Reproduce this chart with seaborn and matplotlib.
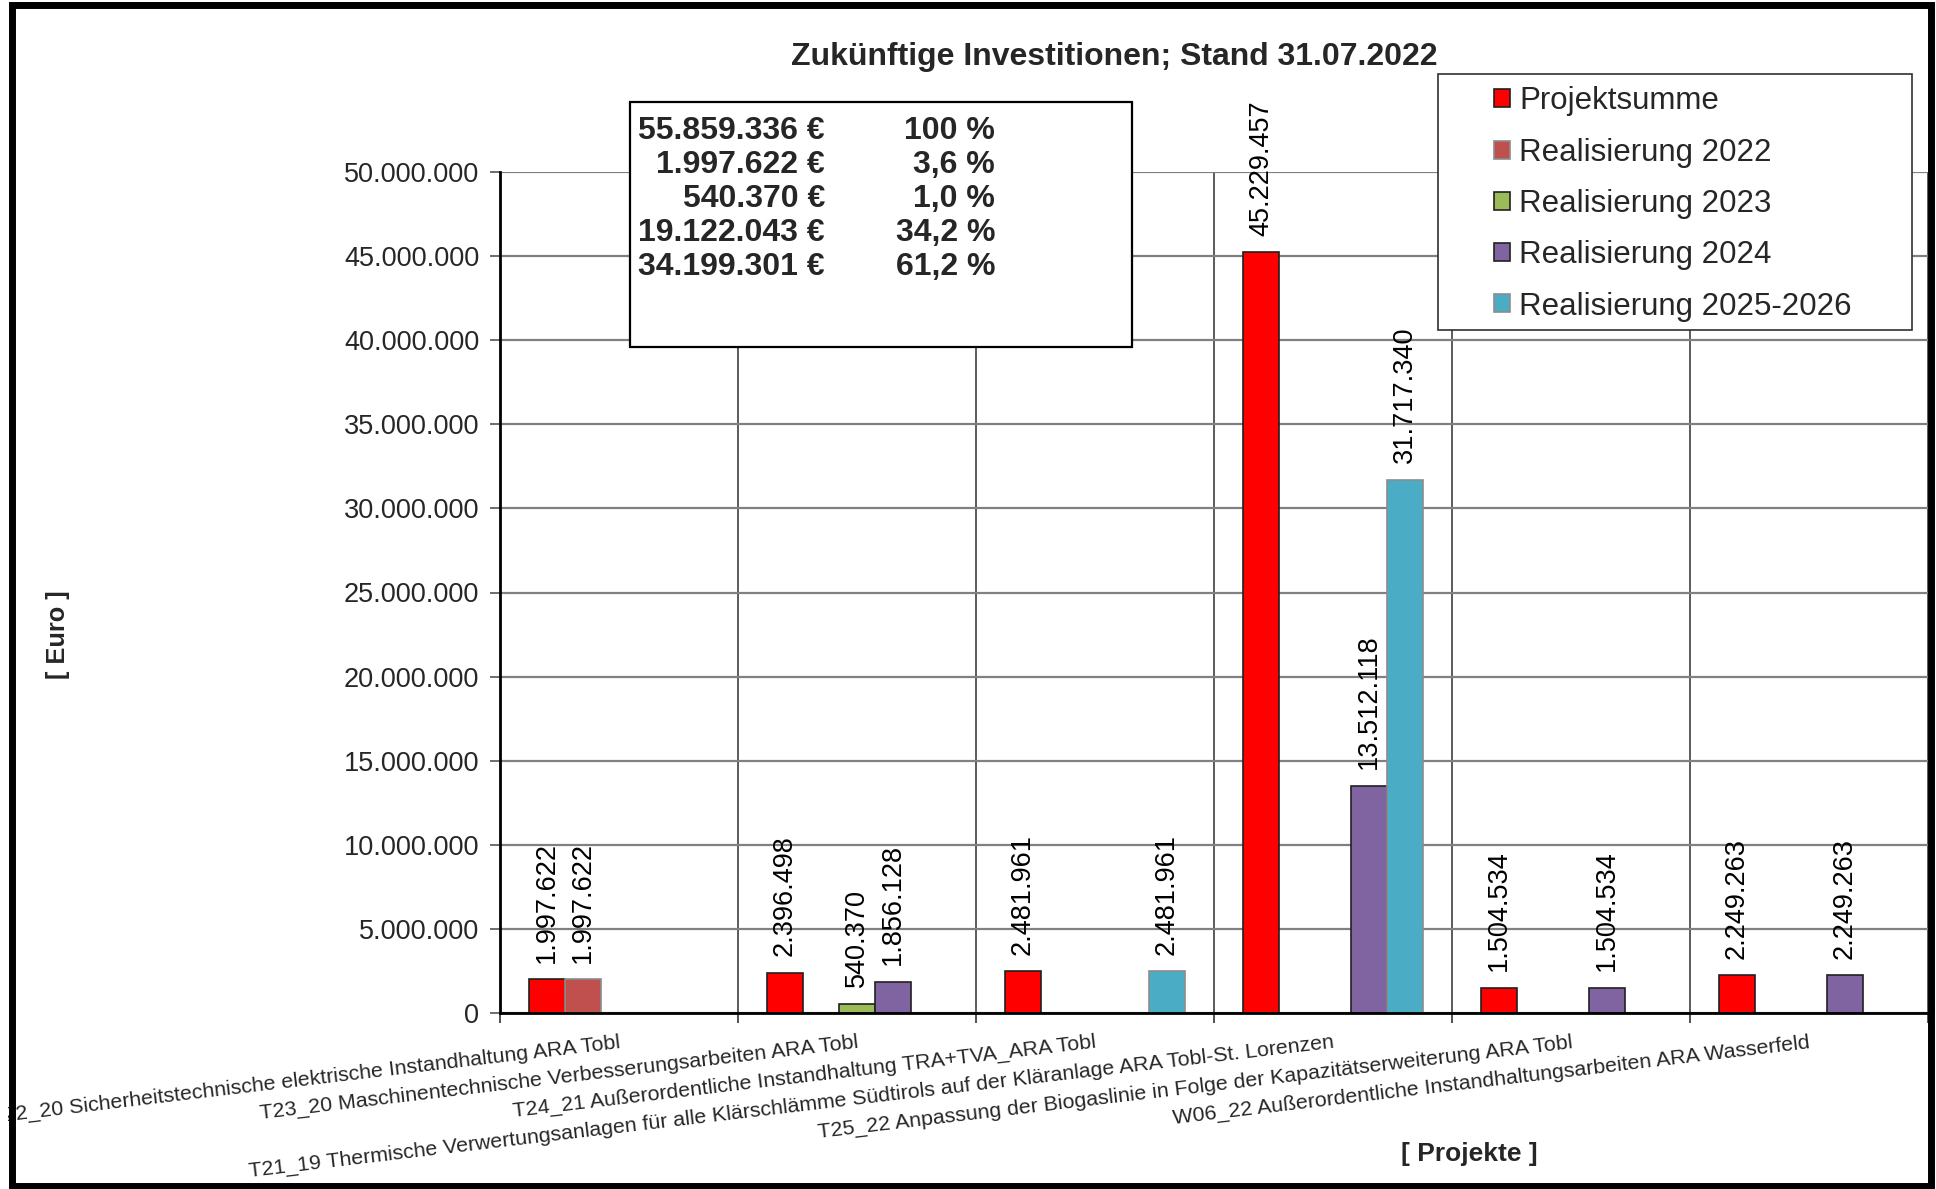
import matplotlib
matplotlib.use("Agg")
import matplotlib.pyplot as plt
from matplotlib.patches import Rectangle, Patch
from matplotlib.ticker import FixedLocator, FuncFormatter
import seaborn as sns
import pandas as pd

# --- data -----------------------------------------------------------------
projects = [
    "T22_20 Sicherheitstechnische elektrische Instandhaltung ARA Tobl",
    "T23_20 Maschinentechnische Verbesserungsarbeiten ARA Tobl",
    "T24_21 Außerordentliche Instandhaltung TRA+TVA_ARA Tobl",
    "T21_19 Thermische Verwertungsanlagen für alle Klärschlämme Südtirols auf der Kläranlage ARA Tobl-St. Lorenzen",
    "T25_22 Anpassung der Biogaslinie in Folge der Kapazitätserweiterung ARA Tobl",
    "W06_22 Außerordentliche Instandhaltungsarbeiten ARA Wasserfeld",
]
series = ["Projektsumme", "Realisierung 2022", "Realisierung 2023",
          "Realisierung 2024", "Realisierung 2025-2026"]

projektsumme = [1997622, 2396498, 2481961, 45229457, 1504534, 2249263]
real_2022 = [1997622, 0, 0, 0, 0, 0]
real_2023 = [0, 540370, 0, 0, 0, 0]
real_2024 = [0, 1856128, 0, 13512118, 1504534, 2249263]
real_2025_2026 = [0, 0, 2481961, 31717340, 0, 0]

summary_amounts = ["55.859.336 €", "1.997.622 €", "540.370 €", "19.122.043 €", "34.199.301 €"]
summary_shares = ["100 %", "3,6 %", "1,0 %", "34,2 %", "61,2 %"]

colors = {
    "Projektsumme": "#FF0000",
    "Realisierung 2022": "#C0504D",
    "Realisierung 2023": "#9BBB59",
    "Realisierung 2024": "#8064A2",
    "Realisierung 2025-2026": "#4BACC6",
}
edges = {
    "Projektsumme": "#202020",
    "Realisierung 2022": "#8C8C8C",
    "Realisierung 2023": "#202020",
    "Realisierung 2024": "#202020",
    "Realisierung 2025-2026": "#8C8C8C",
}

# long-form table, zero entries are not drawn
rows = []
for values, name in zip([projektsumme, real_2022, real_2023, real_2024, real_2025_2026], series):
    for proj, v in zip(projects, values):
        if v > 0:
            rows.append({"Projekt": proj, "Serie": name, "Euro": v})
df = pd.DataFrame(rows)


def de_thousands(v):
    return f"{v:,.0f}".replace(",", ".")


# --- figure ---------------------------------------------------------------
sns.set_theme(style="white")
plt.rcParams["font.family"] = ["Liberation Sans", "DejaVu Sans"]

W, H = 1936, 1189
fig = plt.figure(figsize=(W / 100, H / 100), dpi=100)
fig.patch.set_facecolor("white")

ax_l, ax_r, ax_b, ax_t = 500, 1928, 1013, 172
ax = fig.add_axes([ax_l / W, 1 - ax_b / H, (ax_r - ax_l) / W, (ax_b - ax_t) / H])
ax.set_facecolor("white")

sns.barplot(data=df, x="Projekt", y="Euro", hue="Serie", order=projects,
            hue_order=series, palette=colors, saturation=1, width=0.756,
            errorbar=None, ax=ax, legend=False, linewidth=1.2, zorder=3)

# bar edges and value labels per series
present = [s for s in series if s in df["Serie"].unique()]
for cont, name in zip(ax.containers, present):
    for bar in cont:
        bar.set_edgecolor(edges[name])
        bar.set_linewidth(1.2)
    labels = [de_thousands(b.get_height()) for b in cont]
    ax.bar_label(cont, labels=labels, rotation=90, padding=12,
                 fontsize=19.5, color="black", clip_on=False)

ax.set_xlim(-0.5, len(projects) - 0.5)
ax.set_ylim(0, 50_000_000)

# y axis
ax.yaxis.set_major_locator(FixedLocator(range(0, 50_000_001, 5_000_000)))
ax.yaxis.set_major_formatter(FuncFormatter(lambda v, p: de_thousands(v)))
ax.tick_params(axis="y", which="major", left=True, length=7, width=1.2,
               color="#555555", labelsize=19.5, pad=8)
ax.grid(axis="y", which="major", color="#808080", linewidth=1.6, zorder=0)

# x axis: labels at category centres, ticks and gridlines at boundaries
ax.set_xticks(range(len(projects)))
ax.set_xticklabels(projects, rotation=6.8, ha="right", va="top",
                   rotation_mode="anchor", fontsize=15.4)
ax.tick_params(axis="x", which="major", length=0, pad=14)
ax.set_xticks([i + 0.5 for i in range(-1, len(projects))], minor=True)
ax.tick_params(axis="x", which="minor", bottom=True, length=7, width=1.2,
               color="#333333")
ax.grid(axis="x", which="minor", color="#404040", linewidth=1.2, zorder=0)
ax.grid(axis="x", which="major", visible=False)
ax.set_axisbelow(True)

for side in ["top", "right"]:
    ax.spines[side].set_visible(False)
for side in ["left", "bottom"]:
    ax.spines[side].set_color("black")
    ax.spines[side].set_linewidth(2)
    ax.spines[side].set_zorder(4)

ax.set_xlabel("")
ax.set_ylabel("")


def fx(px):
    return px / W


def fy(py):
    return 1 - py / H


# title and axis captions
fig.text(fx(1114), fy(57), "Zukünftige Investitionen; Stand 31.07.2022",
         ha="center", va="center", fontsize=23, fontweight="bold")
fig.text(fx(58), fy(635), "[ Euro ]", rotation=90, ha="center", va="center",
         fontsize=18.3, fontweight="bold")
fig.text(fx(1469), fy(1154), "[ Projekte ]", ha="center", va="center",
         fontsize=19, fontweight="bold")

# summary box
fig.patches.append(Rectangle((fx(630), fy(347)), fx(1132) - fx(630), fy(102) - fy(347),
                             transform=fig.transFigure, facecolor="white",
                             edgecolor="black", linewidth=1.6, zorder=6))
y0, dy = 131, 34
for i, (amt, share) in enumerate(zip(summary_amounts, summary_shares)):
    yy = fy(y0 + i * dy)
    fig.text(fx(825), yy, amt, ha="right", va="center", fontsize=23,
             fontweight="bold", zorder=7)
    fig.text(fx(995), yy, share, ha="right", va="center", fontsize=23,
             fontweight="bold", zorder=7)

# legend box
fig.patches.append(Rectangle((fx(1438), fy(330)), fx(1912) - fx(1438), fy(74) - fy(330),
                             transform=fig.transFigure, facecolor="white",
                             edgecolor="#303030", linewidth=1.2, zorder=6))
handles = [Patch(facecolor=colors[s], edgecolor=edges[s], linewidth=1.2) for s in series]
leg = fig.legend(handles, series, loc="center left",
                 bbox_to_anchor=(fx(1494), fy(204)), frameon=False,
                 fontsize=22.5, handlelength=0.51, handleheight=0.51,
                 handletextpad=0.3, labelspacing=0.68, borderpad=0,
                 borderaxespad=0)
leg.set_zorder(8)

# outer frame, with white margin outside it
fig.patches.append(Rectangle((0, 0), fx(8), 1, transform=fig.transFigure,
                             facecolor="white", edgecolor="none", zorder=9))
fig.patches.append(Rectangle((fx(11.5), fy(1186)), fx(1931) - fx(11.5), fy(5) - fy(1186),
                             transform=fig.transFigure, facecolor="none",
                             edgecolor="black", linewidth=5, zorder=10))

fig.savefig("out.png", dpi=100, facecolor="white")
